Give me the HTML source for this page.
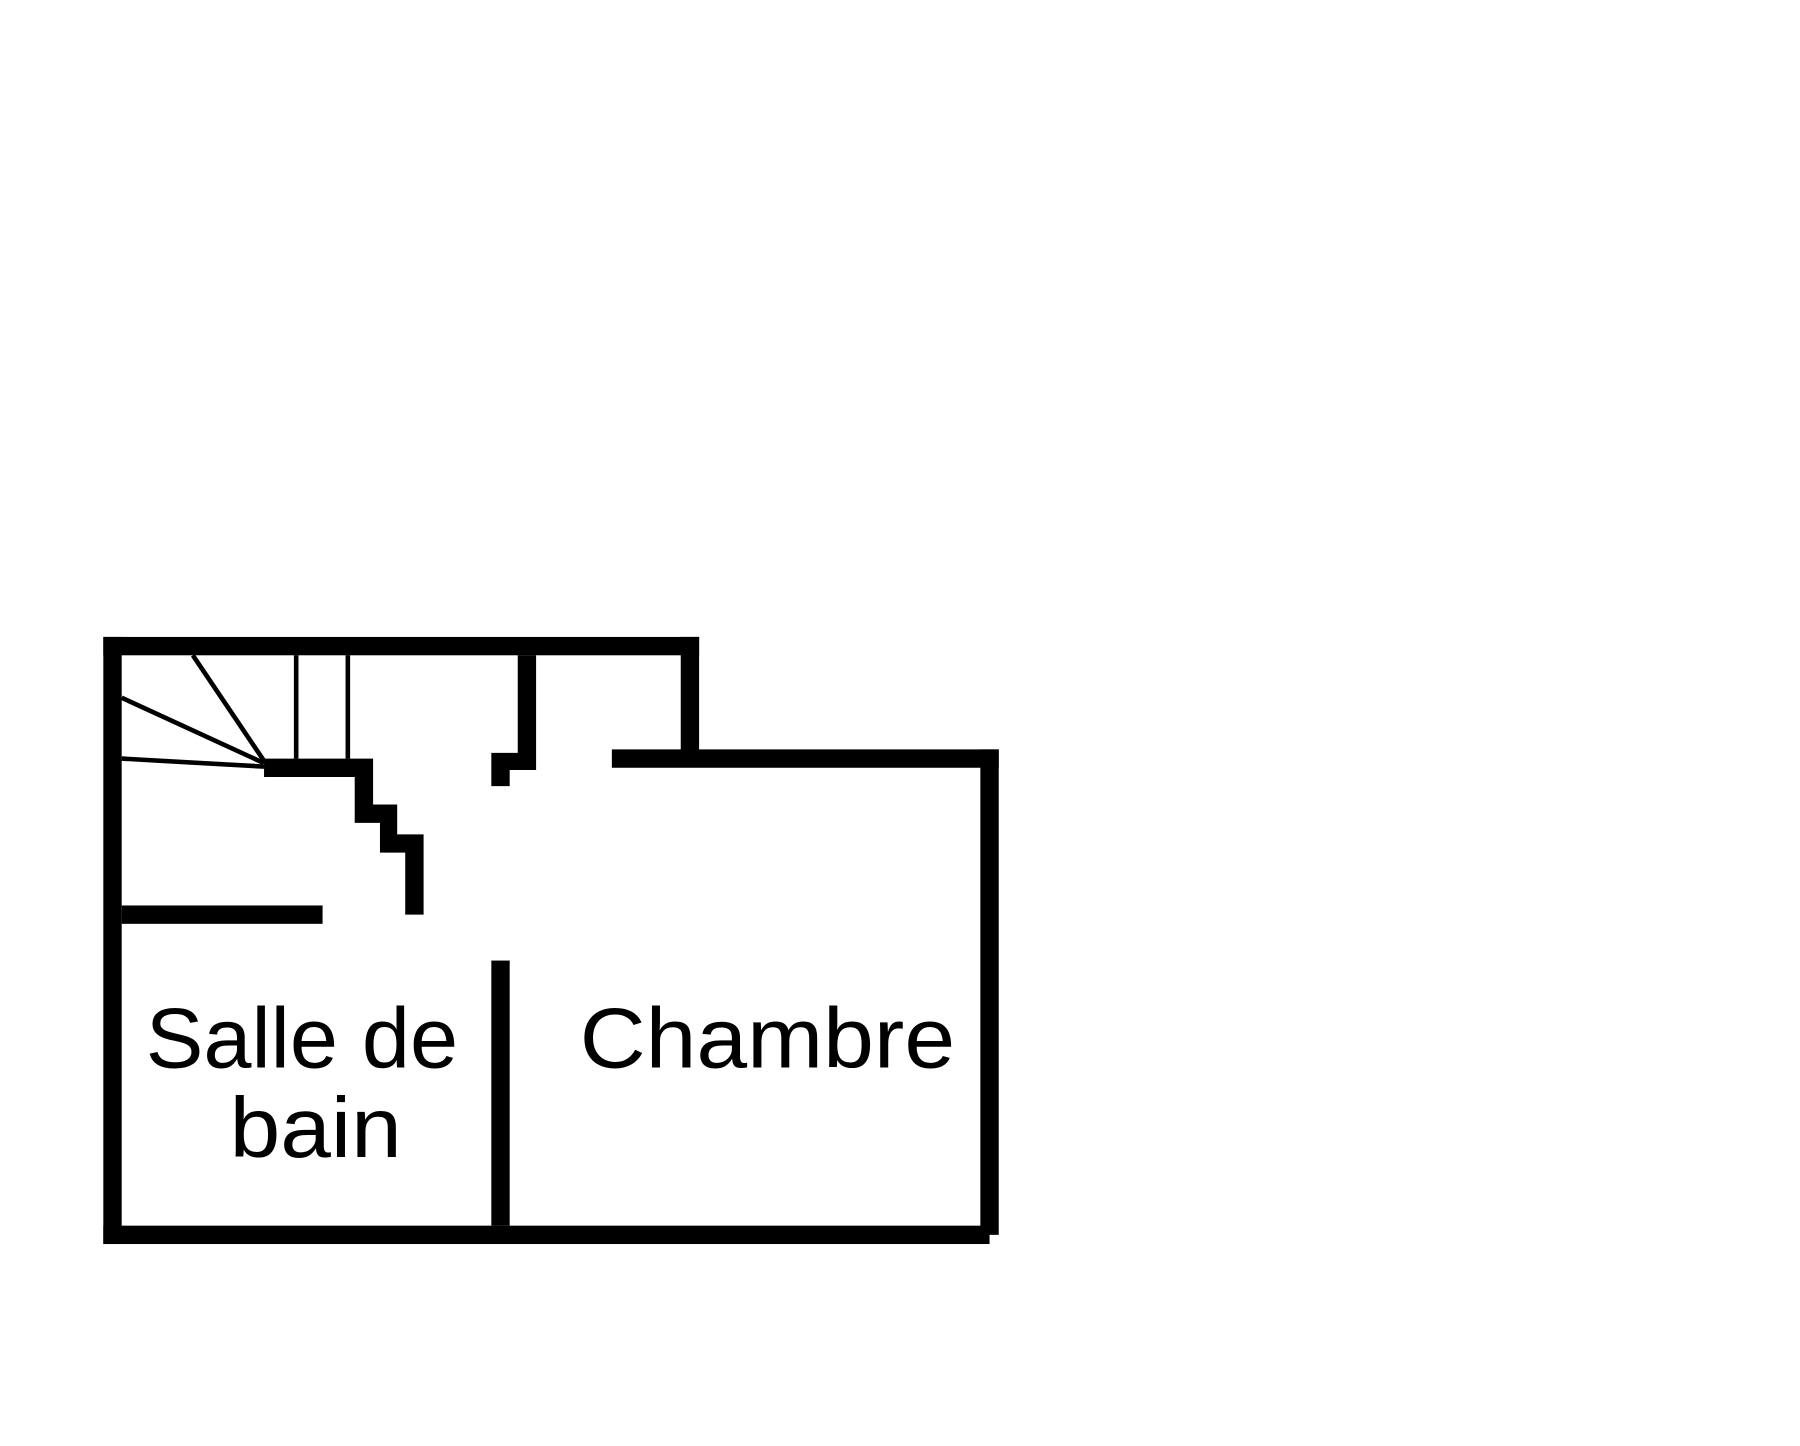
<!DOCTYPE html>
<html><head><meta charset="utf-8"><style>html,body{margin:0;padding:0;background:#fff}svg{display:block}</style></head>
<body>
<svg width="1800" height="1446" viewBox="0 0 1568 1260" preserveAspectRatio="none" xmlns="http://www.w3.org/2000/svg">
<rect width="1568" height="1260" fill="#fff"/>
<g fill="#000">
<rect x="90" y="555" width="16" height="529"/>
<rect x="90" y="555" width="519" height="16"/>
<rect x="593" y="555" width="16" height="106"/>
<rect x="533" y="653" width="337" height="16"/>
<rect x="854" y="653" width="16" height="423"/>
<rect x="90" y="1068" width="772" height="16"/>
<rect x="106" y="789" width="175" height="16"/>
<rect x="428" y="837" width="16" height="231"/>
<polygon points="451,571 467,571 467,671 444,671 444,685 428,685 428,656 451,656"/>
<polygon points="230,661 325,661 325,701 346,701 346,727 369,727 369,797 353,797 353,743 331,743 331,717 309,717 309,677 230,677"/>
</g>
<g stroke="#000" stroke-width="4" fill="none">
<line x1="258" y1="571" x2="258" y2="661"/>
<line x1="303" y1="571" x2="303" y2="661"/>
<line x1="168" y1="571" x2="230" y2="663"/>
<line x1="106" y1="608" x2="230" y2="665"/>
<line x1="106" y1="661" x2="230" y2="668"/>
</g>
<g font-family="Liberation Sans, sans-serif" font-size="74" fill="#000">
<text x="127" y="930" textLength="272" lengthAdjust="spacingAndGlyphs">Salle de</text>
<text x="200" y="1008" textLength="150" lengthAdjust="spacingAndGlyphs">bain</text>
<text x="505" y="930" textLength="327" lengthAdjust="spacingAndGlyphs">Chambre</text>
</g>
</svg>
</body></html>
